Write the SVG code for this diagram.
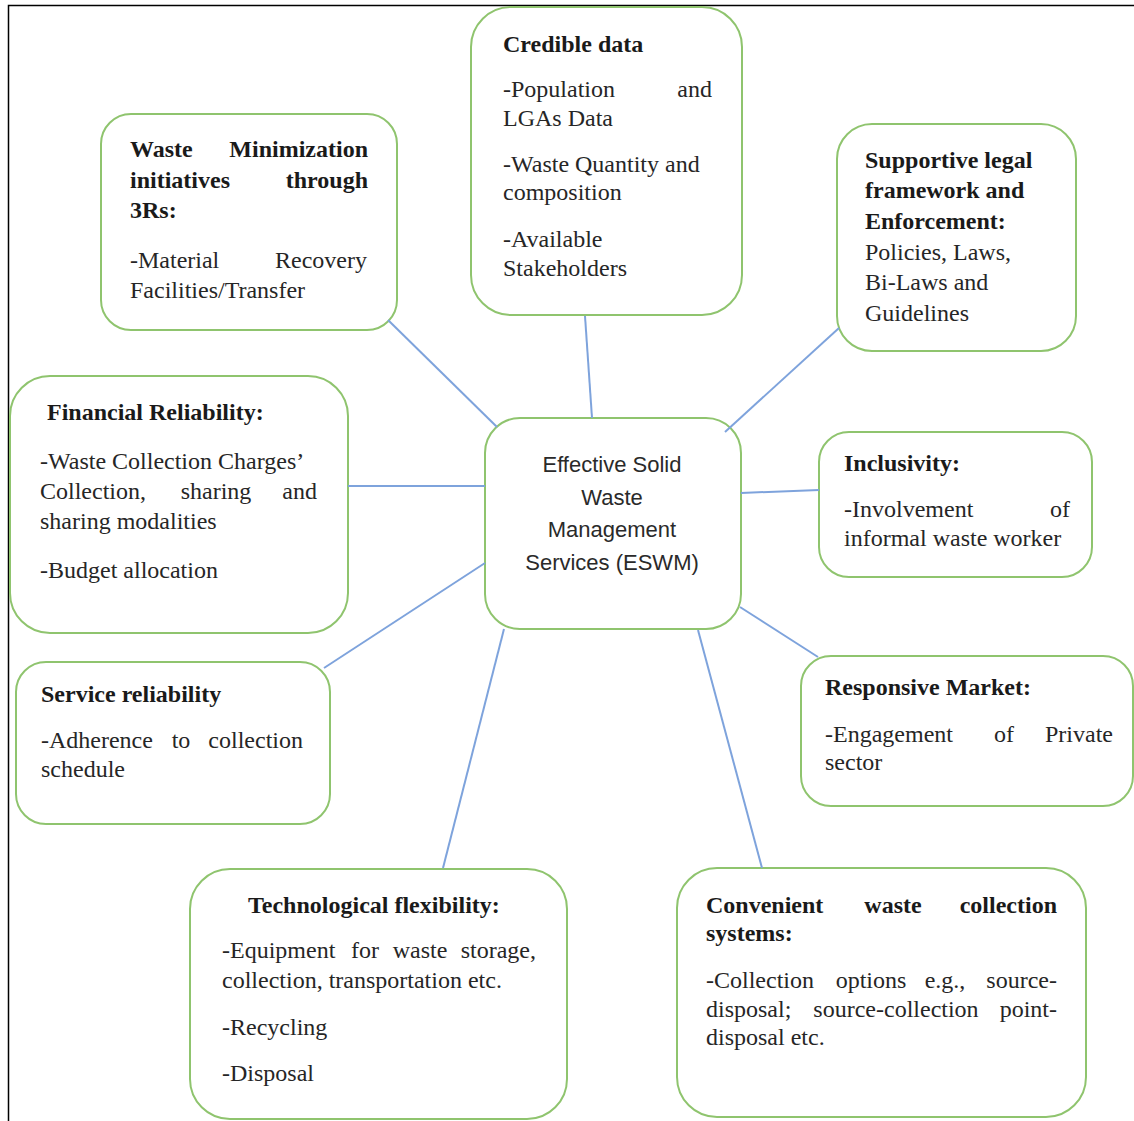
<svg xmlns="http://www.w3.org/2000/svg" width="1134" height="1121" viewBox="0 0 1134 1121">
<style>
.box{fill:#ffffff;stroke:#8fc46e;stroke-width:2}
.t{font-family:"Liberation Serif","Times New Roman",serif;font-size:24px;fill:#262626}
.b{font-family:"Liberation Serif","Times New Roman",serif;font-size:24px;font-weight:bold;fill:#1a1a1a}
.c{font-family:"Liberation Sans",Arial,sans-serif;font-size:22px;fill:#2a2a2a;text-anchor:middle}
.e{text-anchor:end}
.m{text-anchor:middle}
.con{stroke:#7ea3dc;stroke-width:2;fill:none}
.frame{stroke:#000;stroke-width:1.5;fill:none}
</style>
<rect width="1134" height="1121" fill="#ffffff"/>
<path class="frame" d="M8.5 1121 V5.5 H1134"/>

<g id="node-waste-minimization">
<rect class="box" x="101" y="114" width="296" height="216" rx="30"/>
<text class="b" x="130" y="157">Waste</text><text class="b e" x="368" y="157">Minimization</text>
<text class="b" x="130" y="188">initiatives</text><text class="b e" x="368" y="188">through</text>
<text class="b" x="130" y="218">3Rs:</text>
<text class="t" x="130" y="268">-Material</text><text class="t e" x="367" y="268">Recovery</text>
<text class="t" x="130" y="298">Facilities/Transfer</text>
</g>

<g id="node-credible-data">
<rect class="box" x="471" y="7" width="271" height="308" rx="40"/>
<text class="b" x="503" y="52">Credible data</text>
<text class="t" x="503" y="97">-Population</text><text class="t e" x="712" y="97">and</text>
<text class="t" x="503" y="126">LGAs Data</text>
<text class="t" x="503" y="172">-Waste Quantity and</text>
<text class="t" x="503" y="200">composition</text>
<text class="t" x="503" y="247">-Available</text>
<text class="t" x="503" y="276">Stakeholders</text>
</g>

<g id="node-legal">
<rect class="box" x="837" y="124" width="239" height="227" rx="35"/>
<text class="b" x="865" y="168">Supportive legal</text>
<text class="b" x="865" y="198">framework and</text>
<text class="b" x="865" y="229">Enforcement:</text>
<text class="t" x="865" y="260">Policies, Laws,</text>
<text class="t" x="865" y="290">Bi-Laws and</text>
<text class="t" x="865" y="321">Guidelines</text>
</g>

<g id="node-financial">
<rect class="box" x="10" y="376" width="338" height="257" rx="40"/>
<text class="b" x="47" y="420">Financial Reliability:</text>
<text class="t" x="40" y="469">-Waste Collection Charges’</text>
<text class="t" x="40" y="499">Collection,</text><text class="t m" x="216" y="499">sharing</text><text class="t e" x="317" y="499">and</text>
<text class="t" x="40" y="529">sharing modalities</text>
<text class="t" x="40" y="578">-Budget allocation</text>
</g>

<g id="node-eswm">
<rect class="box" x="485" y="418" width="256" height="211" rx="35"/>
<text class="c" x="612" y="472">Effective Solid</text>
<text class="c" x="612" y="505">Waste</text>
<text class="c" x="612" y="537">Management</text>
<text class="c" x="612" y="570">Services (ESWM)</text>
</g>

<g id="node-inclusivity">
<rect class="box" x="819" y="432" width="273" height="145" rx="30"/>
<text class="b" x="844" y="471">Inclusivity:</text>
<text class="t" x="844" y="517">-Involvement</text><text class="t e" x="1070" y="517">of</text>
<text class="t" x="844" y="546">informal waste worker</text>
</g>

<g id="node-service">
<rect class="box" x="16" y="662" width="314" height="162" rx="30"/>
<text class="b" x="41" y="702">Service reliability</text>
<text class="t" x="41" y="748">-Adherence</text><text class="t m" x="181" y="748">to</text><text class="t e" x="303" y="748">collection</text>
<text class="t" x="41" y="777">schedule</text>
</g>

<g id="node-market">
<rect class="box" x="801" y="656" width="332" height="150" rx="30"/>
<text class="b" x="825" y="695">Responsive Market:</text>
<text class="t" x="825" y="742">-Engagement</text><text class="t m" x="1004" y="742">of</text><text class="t e" x="1113" y="742">Private</text>
<text class="t" x="825" y="770">sector</text>
</g>

<g id="node-technological">
<rect class="box" x="190" y="869" width="377" height="250" rx="40"/>
<text class="b" x="248" y="913">Technological flexibility:</text>
<text class="t" x="222" y="958">-Equipment</text><text class="t m" x="365" y="958">for</text><text class="t m" x="420" y="958">waste</text><text class="t e" x="536" y="958">storage,</text>
<text class="t" x="222" y="988">collection, transportation etc.</text>
<text class="t" x="222" y="1035">-Recycling</text>
<text class="t" x="222" y="1081">-Disposal</text>
</g>

<g id="node-convenient">
<rect class="box" x="677" y="868" width="409" height="249" rx="40"/>
<text class="b" x="706" y="913">Convenient</text><text class="b m" x="893" y="913">waste</text><text class="b e" x="1057" y="913">collection</text>
<text class="b" x="706" y="941">systems:</text>
<text class="t" x="706" y="988">-Collection</text><text class="t m" x="871" y="988">options</text><text class="t m" x="945" y="988">e.g.,</text><text class="t e" x="1057" y="988">source-</text>
<text class="t" x="706" y="1017">disposal;</text><text class="t m" x="896" y="1017">source-collection</text><text class="t e" x="1057" y="1017">point-</text>
<text class="t" x="706" y="1045">disposal etc.</text>
</g>

<g id="connectors">
<line class="con" x1="388" y1="320" x2="497" y2="427"/>
<line class="con" x1="585" y1="316" x2="592" y2="418"/>
<line class="con" x1="839" y1="328" x2="725" y2="432"/>
<line class="con" x1="348" y1="486" x2="485" y2="486"/>
<line class="con" x1="741" y1="493" x2="819" y2="490"/>
<line class="con" x1="324" y1="668" x2="485" y2="563"/>
<line class="con" x1="740" y1="607" x2="818" y2="657"/>
<line class="con" x1="443" y1="868" x2="504" y2="629"/>
<line class="con" x1="762" y1="868" x2="698" y2="630"/>
</g>
</svg>
